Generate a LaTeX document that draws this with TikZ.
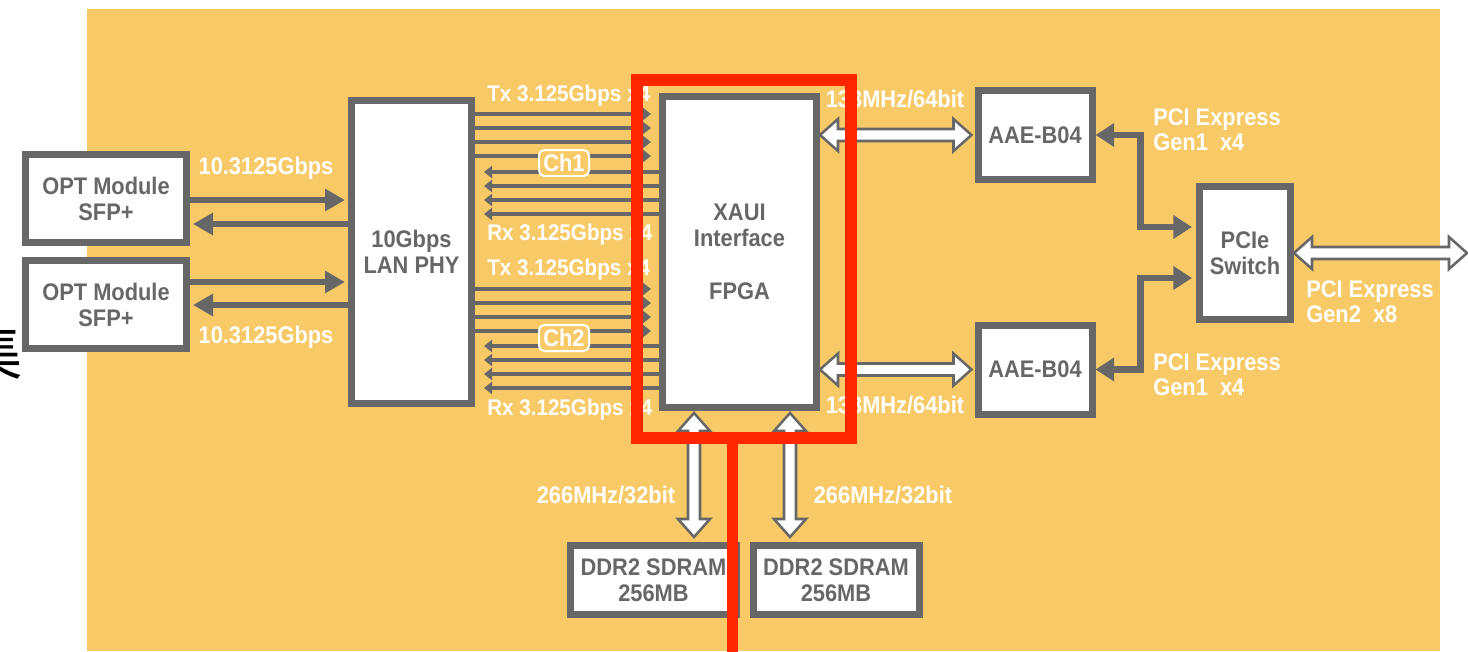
\documentclass[tikz,border=0pt]{standalone}
\usepackage{fontspec}
\newfontfamily\labfont[FakeStretch=0.91]{Liberation Sans}
\newfontfamily\cjk{Noto Sans CJK SC}
\usetikzlibrary{arrows.meta}
\usetikzlibrary{calc}

% hollow double arrows (horizontal / vertical), tip to tip
\newcommand{\hollowx}[2]{\draw[hollow] (#1) -- ++(18,-16) -- ++(0,10) -- ($(#2)+(-18,-6)$) -- ++(0,-10) -- (#2) -- ++(-18,16) -- ++(0,-10) -- ($(#1)+(18,6)$) -- ++(0,10) -- cycle ;}
\newcommand{\hollowy}[2]{\draw[hollow] (#1) -- ++(16,18) -- ++(-10,0) -- ($(#2)+(6,-18)$) -- ++(10,0) -- (#2) -- ++(-16,-18) -- ++(10,0) -- ($(#1)+(-6,18)$) -- ++(-10,0) -- cycle ;}

\begin{document}
\begin{tikzpicture}[x=0.75pt,y=0.75pt,yscale=-1,xscale=1,
  blk/.style={draw={rgb, 255:red, 103; green, 103; blue, 103}, line width=5.25pt, fill=white, inner sep=0pt, align=center, text={rgb, 255:red, 103; green, 103; blue, 103}, font=\labfont\bfseries\fontsize{18}{19.5}\selectfont},
  lbl/.style={inner sep=0.75pt, text=white, align=left, font=\labfont\bfseries\fontsize{18}{19}\selectfont},
  buslbl/.style={lbl, anchor=west, font=\labfont\bfseries\fontsize{17}{19}\selectfont},
  chbox/.style={draw=white, line width=1.5pt, rounded corners=4pt, fill={rgb, 255:red, 248; green, 201; blue, 103}, minimum width=37.5pt, minimum height=19.5pt, inner sep=0pt, text=white, font=\labfont\bfseries\fontsize{18}{19}\selectfont},
  link/.style={draw={rgb, 255:red, 103; green, 103; blue, 103}, line width=4.5pt, -{Triangle[length=15pt,width=16pt]}},
  bus/.style={draw={rgb, 255:red, 103; green, 103; blue, 103}, line width=3pt, -{Triangle[length=6pt,width=9pt]}},
  elbow/.style={draw={rgb, 255:red, 103; green, 103; blue, 103}, line width=5pt, {Triangle[length=14pt,width=17pt]}-{Triangle[length=14pt,width=17pt]}},
  hollow/.style={draw={rgb, 255:red, 103; green, 103; blue, 103}, line width=1.9pt, fill=white},
  redmark/.style={draw={rgb, 255:red, 255; green, 38; blue, 0}, line width=9pt}]
\useasboundingbox (0,0) rectangle (1468,651);

%Shape: Rectangle [background]
\fill[white] (0,0) rectangle (1468,651);
\fill[fill={rgb, 255:red, 248; green, 201; blue, 103}] (87,9) rectangle (1440,651);

% Text Node
\node[inner sep=0pt, font=\cjk\fontsize{46}{46}\selectfont] (cut) at (-8,352) {集};

%Shape: Rectangle [boxes]
\node[blk, minimum width=120.75pt, minimum height=66pt] (opt1) at (106,198.5) {OPT Module\\SFP+};
\node[blk, minimum width=120.75pt, minimum height=66pt] (opt2) at (106,304.5) {OPT Module\\SFP+};
\node[blk, minimum width=90pt, minimum height=227.25pt] (phy) at (411.5,252) {10Gbps\\LAN PHY};
\node[blk, minimum width=115.5pt, minimum height=233.25pt] (fpga) at (739.5,252) {XAUI\\Interface\\[20pt]FPGA};
\node[blk, minimum width=85.5pt, minimum height=66.75pt] (aae1) at (1035,135) {AAE-B04};
\node[blk, minimum width=85.5pt, minimum height=66.75pt] (aae2) at (1035,369.5) {AAE-B04};
\node[blk, minimum width=68.25pt, minimum height=99.75pt] (pcie) at (1245,253) {PCIe\\Switch};
\node[blk, minimum width=124.5pt, minimum height=51.75pt] (ddr1) at (653.5,580) {DDR2 SDRAM\\256MB};
\node[blk, minimum width=124.5pt, minimum height=51.75pt] (ddr2) at (836,580) {DDR2 SDRAM\\256MB};

%Straight Lines [SFP+ <-> PHY]
\coordinate (o1) at (0,200); \coordinate (o2) at (0,224);
\coordinate (o3) at (0,282); \coordinate (o4) at (0,305);
\draw[link, shorten >=2.25pt] (opt1.east |- o1) -- (phy.west |- o1);
\draw[link, shorten >=2.25pt] (phy.west |- o2) -- (opt1.east |- o2);
\draw[link, shorten >=2.25pt] (opt2.east |- o3) -- (phy.west |- o3);
\draw[link, shorten >=2.25pt] (phy.west |- o4) -- (opt2.east |- o4);

%Straight Lines [Tx / Rx lanes]
\foreach \y [count=\i] in {114,128,142,156,289,303,317,331} {
  \coordinate (tx\i) at (0,\y);
  \draw[bus, shorten >=6pt] (phy.east |- tx\i) -- (fpga.west |- tx\i);
}
\foreach \y [count=\i] in {172,186,200,214,346,360,374,388} {
  \coordinate (rx\i) at (0,\y);
  \draw[bus, shorten >=6.75pt] (fpga.west |- rx\i) -- (phy.east |- rx\i);
}
\node[chbox] (ch1) at (564,163) {Ch1};
\node[chbox] (ch2) at (564,338) {Ch2};

% Text Node
\node[lbl] (rate1) at (266,168) {10.3125Gbps};
\node[lbl] (rate2) at (266,337) {10.3125Gbps};
\node[buslbl] (txlab1) at (486,96) {Tx 3.125Gbps x4};
\node[buslbl] (rxlab1) at (486,235) {Rx 3.125Gbps x4};
\node[buslbl] (txlab2) at (486,270) {Tx 3.125Gbps x4};
\node[buslbl] (rxlab2) at (486,410) {Rx 3.125Gbps x4};
\node[lbl] (clk1) at (895,99) {133MHz/64bit};
\node[lbl] (clk2) at (895,405) {133MHz/64bit};
\node[lbl, anchor=west] (pci1) at (1152,129.5) {PCI Express\\Gen1~~x4};
\node[lbl, anchor=west] (pci2) at (1152,374.5) {PCI Express\\Gen1~~x4};
\node[lbl, anchor=west] (pci3) at (1305,301.5) {PCI Express\\Gen2~~x8};
\node[lbl] (mem1) at (606,495) {266MHz/32bit};
\node[lbl] (mem2) at (883,495) {266MHz/32bit};

%Straight Lines [AAE-B04 <-> PCIe Switch]
\coordinate (e1) at (0,227); \coordinate (e2) at (0,278);
\draw[elbow, shorten >=3pt] (aae1.east) -- ++(45,0) |- (pcie.west |- e1);
\draw[elbow, shorten >=3pt] (aae2.east) -- ++(45,0) |- (pcie.west |- e2);

%Shape: Double Arrow [hollow]
\coordinate (h1a) at (fpga.east |- aae1.center); \coordinate (h1b) at ($(aae1.west)+(-3,0)$);
\coordinate (h2a) at (fpga.east |- aae2.center); \coordinate (h2b) at ($(aae2.west)+(-3,0)$);
\hollowx{h1a}{h1b}
\hollowx{h2a}{h2b}
\coordinate (pout) at (1467,253);
\hollowx{pcie.east}{pout}
\coordinate (v1) at (694,0); \coordinate (v2) at (790,0);
\coordinate (m1a) at ($(fpga.south -| v1)+(0,2)$); \coordinate (m1b) at ($(ddr1.north -| v1)+(0,-5)$);
\coordinate (m2a) at ($(fpga.south -| v2)+(0,2)$); \coordinate (m2b) at ($(ddr2.north -| v2)+(0,-5)$);
\hollowy{m1a}{m1b}
\hollowy{m2a}{m2b}

%Shape: Rectangle [red mark]
\draw[redmark] (637,79.5) rectangle (851,437.5);
\draw[redmark, line width=8.25pt] (732,437.5) -- (732,660);

\end{tikzpicture}
\end{document}
